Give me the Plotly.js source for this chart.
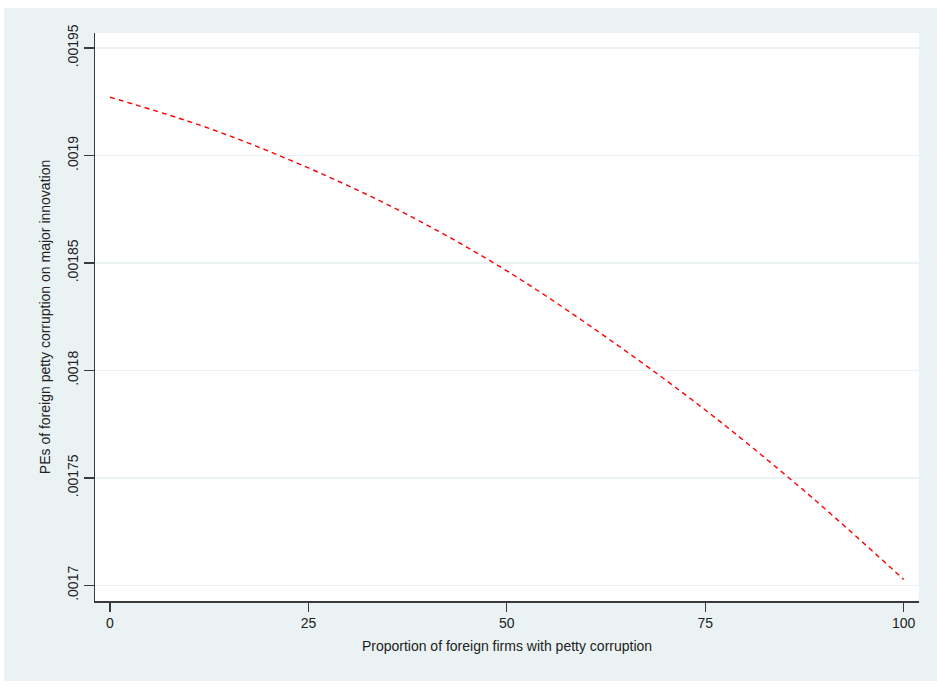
<!DOCTYPE html>
<html>
<head>
<meta charset="utf-8">
<script src="https://cdn.plot.ly/plotly-3.0.1.min.js"></script>
<style>
  html, body { margin: 0; padding: 0; background: #ffffff; width: 937px; height: 686px; overflow: hidden; }
  #chart { position: absolute; left: 4px; top: 8px; width: 933px; height: 673px; }
</style>
</head>
<body>
<div id="chart"></div>
<script>
// Data
const proportion = [0, 12.5, 25, 37.5, 50, 62.5, 75, 87.5, 100];
const partialEffect = [0.0019271, 0.0019126, 0.0018942, 0.0018724, 0.0018463, 0.0018155, 0.0017816, 0.0017439, 0.0017028];

const xTickVals = [0, 25, 50, 75, 100];
const xTickText = ["0", "25", "50", "75", "100"];
const yTickVals = [0.0017, 0.00175, 0.0018, 0.00185, 0.0019, 0.00195];
const yTickText = [".0017", ".00175", ".0018", ".00185", ".0019", ".00195"];

const xTitle = "Proportion of foreign firms with petty corruption";
const yTitle = "PEs of foreign petty corruption on major innovation";

const bg = "#eaf2f3";
const axisColor = "#3a3a3a";
const fontFamily = "Liberation Sans, Arial, sans-serif";

const trace = {
  x: proportion,
  y: partialEffect,
  type: "scatter",
  mode: "lines",
  line: { color: "#ff0000", width: 1.4, dash: "5px,4px", shape: "spline" },
  hoverinfo: "skip",
  showlegend: false
};

const layout = {
  width: 933,
  height: 673,
  paper_bgcolor: bg,
  plot_bgcolor: "#ffffff",
  margin: { l: 91, r: 18, t: 25, b: 80, pad: 0 },
  font: { family: fontFamily, size: 14, color: "#222222" },
  showlegend: false,
  xaxis: {
    range: [-1.89, 101.93],
    tickvals: xTickVals,
    ticktext: xTickText,
    ticks: "outside",
    ticklen: 9,
    tickwidth: 1.3,
    tickcolor: axisColor,
    showline: true,
    linecolor: axisColor,
    linewidth: 1.5,
    showgrid: false,
    zeroline: false,
    tickfont: { family: fontFamily, size: 14, color: "#222222" },
    title: { text: xTitle, font: { family: fontFamily, size: 14, color: "#222222" }, standoff: 11 },
    automargin: false,
    fixedrange: true
  },
  yaxis: {
    range: [0.00169275, 0.00195697],
    tickvals: yTickVals,
    ticktext: yTickText,
    tickangle: -90,
    ticks: "outside",
    ticklen: 10,
    tickwidth: 1.3,
    tickcolor: axisColor,
    showline: true,
    linecolor: axisColor,
    linewidth: 1.5,
    showgrid: true,
    gridcolor: bg,
    gridwidth: 1.3,
    zeroline: false,
    tickfont: { family: fontFamily, size: 14, color: "#222222" },
    title: { text: yTitle, font: { family: fontFamily, size: 14, color: "#222222" }, standoff: 11 },
    automargin: false,
    fixedrange: true
  }
};

Plotly.newPlot("chart", [trace], layout, { staticPlot: true, displayModeBar: false });
</script>
</body>
</html>
